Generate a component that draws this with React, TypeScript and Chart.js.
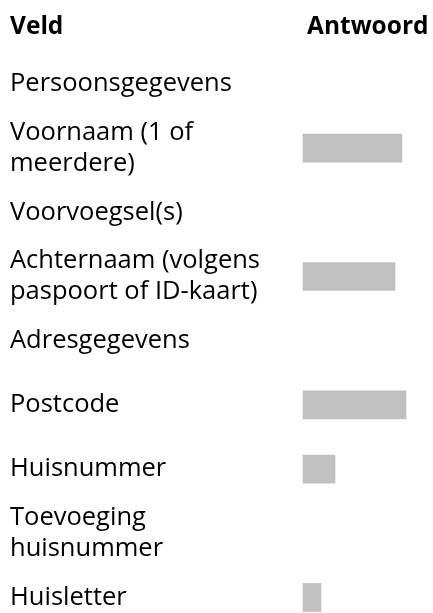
import React, { useEffect, useRef } from "react";
import { Chart, registerables } from "chart.js";

Chart.register(...registerables);

const categories: (string | string[])[] = [
  "Persoonsgegevens",
  ["Voornaam (1 of", "meerdere)"],
  "Voorvoegsel(s)",
  ["Achternaam (volgens", "paspoort of ID-kaart)"],
  "Adresgegevens",
  "Postcode",
  "Huisnummer",
  ["Toevoeging", "huisnummer"],
  "Huisletter",
];

const answerLengths: (number | null)[] = [null, 99, null, 92, null, 103, 32, null, 18];

const headerLabels = ["Veld", "Antwoord"];

const axisMax = 130;

const FONT = "'Open Sans'";

const headerPlugin = {
  id: "headerPlugin",
  afterDraw(chart: any) {
    const ctx = chart.ctx;
    ctx.save();
    ctx.fillStyle = "#000";
    ctx.font = `bold 24.5px ${FONT}`;
    ctx.textBaseline = "alphabetic";
    ctx.textAlign = "left";
    ctx.fillText(headerLabels[0], 10, 34);
    ctx.fillText(headerLabels[1], chart.chartArea.left + 4, 34);
    ctx.restore();
  },
};

export default function App() {
  const ref = useRef<HTMLCanvasElement>(null);
  useEffect(() => {
    document.body.style.margin = "0";
    document.documentElement.style.overflow = "hidden";
    const chart = new Chart(ref.current!, {
      type: "bar",
      data: {
        labels: categories,
        datasets: [
          {
            data: answerLengths,
            backgroundColor: "#c0c0c0",
            borderWidth: 0,
            barThickness: 28,
            clip: false,
          },
        ],
      },
      options: {
        indexAxis: "y",
        animation: false,
        responsive: false,
        maintainAspectRatio: false,
        layout: { padding: { left: 10, top: 84, bottom: 15, right: 0 } },
        plugins: {
          legend: { display: false },
          tooltip: { enabled: false },
          title: { display: false },
        },
        scales: {
          x: {
            display: false,
            min: 0,
            max: axisMax,
          },
          y: {
            offset: false,
            grid: { display: false },
            border: { display: false },
            afterFit(scale: any) {
              scale.width = 293;
            },
            ticks: {
              autoSkip: false,
              crossAlign: "far",
              padding: 0,
              color: "#000",
              font: { family: FONT, size: 25.5, lineHeight: 1.22 },
            },
          },
        },
      },
      plugins: [headerPlugin],
    });
    return () => chart.destroy();
  }, []);
  return (
    <canvas
      ref={ref}
      width={433}
      height={613}
      style={{ display: "block", width: 433, height: 613 }}
    />
  );
}
